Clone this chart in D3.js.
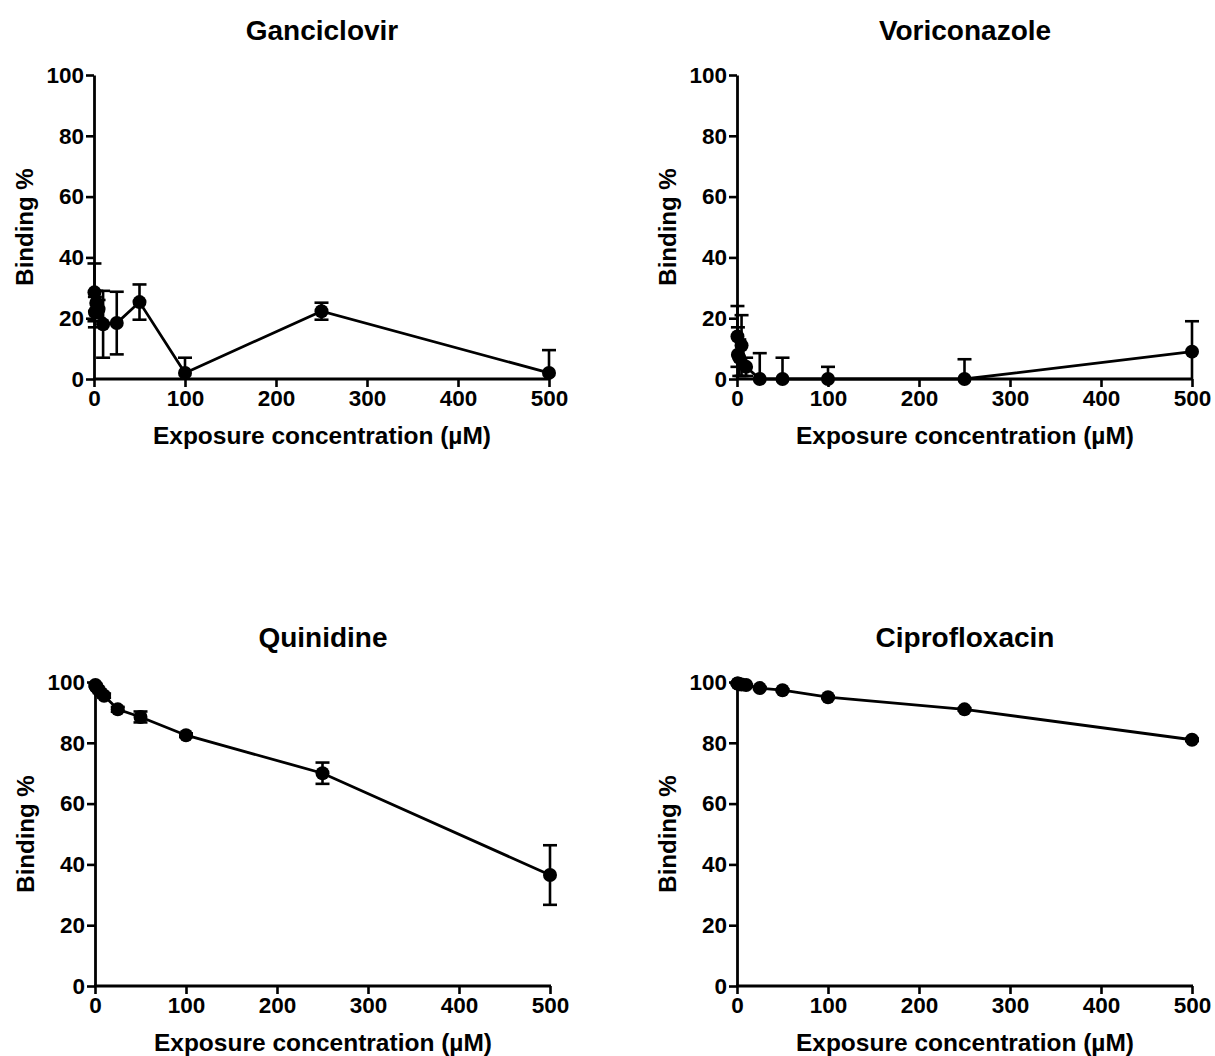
<!DOCTYPE html>
<html>
<head>
<meta charset="utf-8">
<script src="https://cdn.jsdelivr.net/npm/d3@7"></script>
<style>
  body { margin: 0; background: #fff; }
  svg text { font-family: "Liberation Sans", Arial, sans-serif; font-weight: bold; fill: #000; }
</style>
</head>
<body>
<svg width="1215" height="1056"></svg>
<script>
// exposure concentrations (uM)
var conc = [0.5, 1, 2.5, 5, 10, 25, 50, 100, 250, 500];

var ganciclovirMean = [28.5, 22, 25, 23, 18, 18.4, 25.3, 2, 22.3, 2];
var ganciclovirErr  = [9.5, 5, 4, 3, 11, 10.3, 5.8, 5, 2.8, 7.5];

var voriconazoleMean = [14, 8, 7, 11, 4, 0, 0, 0, 0, 9];
var voriconazoleErr  = [10, 9, 6, 10, 3, 8.5, 7, 4, 6.5, 10];

var quinidineMean = [99, 98.5, 98, 97, 95.5, 91, 88.5, 82.5, 70, 36.5];
var quinidineErr  = [0.5, 0.5, 0.6, 0.6, 0.7, 0.8, 1.8, 0.6, 3.5, 9.8];

var ciprofloxacinMean = [99.5, 99.5, 99.3, 99.2, 99, 98, 97.3, 95, 91, 81];
var ciprofloxacinErr  = [0.2, 0.2, 0.2, 0.2, 0.2, 0.3, 0.3, 0.3, 0.4, 0.4];

var xTicks = [0, 100, 200, 300, 400, 500];
var yTicks = [0, 20, 40, 60, 80, 100];

var panels = [
  { title: "Ganciclovir",   mean: ganciclovirMean,   err: ganciclovirErr,   left: 94,  top: 75,  bottom: 379 },
  { title: "Voriconazole",  mean: voriconazoleMean,  err: voriconazoleErr,  left: 737, top: 75,  bottom: 379 },
  { title: "Quinidine",     mean: quinidineMean,     err: quinidineErr,     left: 95,  top: 682, bottom: 986 },
  { title: "Ciprofloxacin", mean: ciprofloxacinMean, err: ciprofloxacinErr, left: 737, top: 682, bottom: 986 }
];

var plotW = 455;
var svg = d3.select("svg");

panels.forEach(function (p) {
  var x = d3.scaleLinear().domain([0, 500]).range([p.left, p.left + plotW]);
  var y = d3.scaleLinear().domain([0, 100]).range([p.bottom, p.top]);
  var g = svg.append("g");

  var data = conc.map(function (c, i) {
    return { c: c, m: p.mean[i], e: p.err[i] };
  });

  // title
  g.append("text")
    .attr("x", p.left + 228).attr("y", p.top - 35)
    .attr("text-anchor", "middle")
    .style("font-size", "28px")
    .text(p.title);

  // axes
  var ax = g.append("g")
    .attr("transform", "translate(0," + p.bottom + ")")
    .call(d3.axisBottom(x).tickValues(xTicks).tickSize(8).tickPadding(3).tickSizeOuter(0));
  var ay = g.append("g")
    .attr("transform", "translate(" + p.left + ",0)")
    .call(d3.axisLeft(y).tickValues(yTicks).tickSize(8).tickPadding(2).tickSizeOuter(0));

  [ax, ay].forEach(function (a) {
    a.select(".domain").attr("stroke", "#000").attr("stroke-width", 2.8);
    a.selectAll(".tick line").attr("stroke", "#000").attr("stroke-width", 2.6);
    a.selectAll(".tick text").style("font-size", "22.5px").attr("fill", "#000");
  });
  ax.select(".domain").attr("d", "M" + (p.left - 1) + ",0H" + (p.left + plotW + 1));

  // axis titles
  g.append("text")
    .attr("x", p.left + 228).attr("y", p.bottom + 65)
    .attr("text-anchor", "middle")
    .style("font-size", "24.5px")
    .text("Exposure concentration (\u00b5M)");
  g.append("text")
    .attr("transform", "translate(" + (p.left - 61) + "," + ((p.top + p.bottom) / 2) + ") rotate(-90)")
    .attr("text-anchor", "middle")
    .style("font-size", "24px")
    .text("Binding %");

  // error bars
  var eb = g.append("g").attr("stroke", "#000").attr("stroke-width", 2.6);
  data.forEach(function (d) {
    var hi = d.m + d.e, lo = Math.max(0, d.m - d.e);
    eb.append("line").attr("x1", x(d.c)).attr("x2", x(d.c)).attr("y1", y(lo)).attr("y2", y(hi));
    eb.append("line").attr("x1", x(d.c) - 7).attr("x2", x(d.c) + 7).attr("y1", y(hi)).attr("y2", y(hi));
    if (d.m - d.e > 0) {
      eb.append("line").attr("x1", x(d.c) - 7).attr("x2", x(d.c) + 7).attr("y1", y(lo)).attr("y2", y(lo));
    }
  });

  // line
  var line = d3.line().x(function (d) { return x(d.c); }).y(function (d) { return y(d.m); });
  g.append("path").datum(data)
    .attr("fill", "none").attr("stroke", "#000").attr("stroke-width", 2.8)
    .attr("d", line);

  // points
  g.selectAll("circle.pt").data(data).enter().append("circle")
    .attr("class", "pt")
    .attr("cx", function (d) { return x(d.c); })
    .attr("cy", function (d) { return y(d.m); })
    .attr("r", 7)
    .attr("fill", "#000");
});
</script>
</body>
</html>
